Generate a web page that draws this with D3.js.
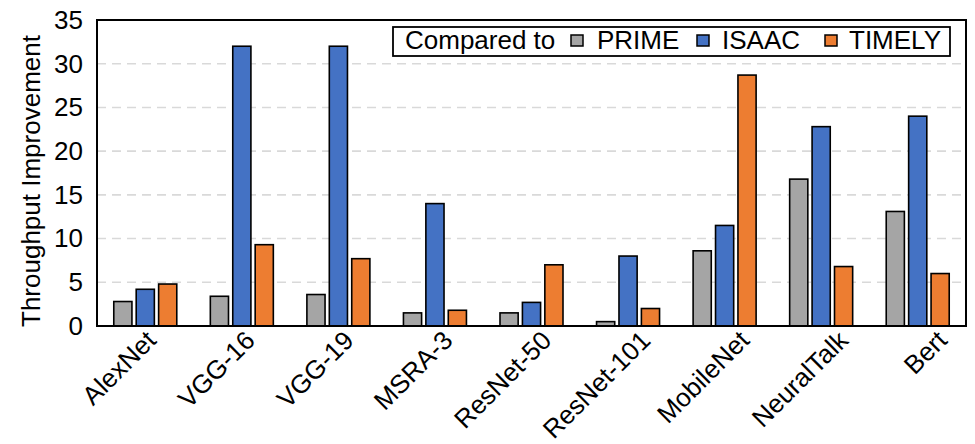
<!DOCTYPE html>
<html>
<head>
<meta charset="utf-8">
<script src="https://cdn.jsdelivr.net/npm/d3@7"></script>
<style>
  html, body { margin: 0; padding: 0; background: #fff; }
  text { font-family: "Liberation Sans", Arial, sans-serif; fill: #000; }
</style>
</head>
<body>
<svg id="chart" width="975" height="444"></svg>
<script>
// Networks on the x axis
const categories = ["AlexNet", "VGG-16", "VGG-19", "MSRA-3", "ResNet-50", "ResNet-101", "MobileNet", "NeuralTalk", "Bert"];
// Baselines being compared against
const seriesNames = ["PRIME", "ISAAC", "TIMELY"];
// Throughput improvement over each baseline
const primeValues  = [2.8, 3.4, 3.6, 1.5, 1.5, 0.5, 8.6, 16.8, 13.1];
const isaacValues  = [4.2, 32.0, 32.0, 14.0, 2.7, 8.0, 11.5, 22.8, 24.0];
const timelyValues = [4.8, 9.3, 7.7, 1.8, 7.0, 2.0, 28.7, 6.8, 6.0];
const yTicks = [0, 5, 10, 15, 20, 25, 30, 35];

const colors = { PRIME: "#A5A5A5", ISAAC: "#4472C4", TIMELY: "#ED7D31" };
const seriesValues = { PRIME: primeValues, ISAAC: isaacValues, TIMELY: timelyValues };

const FONT = '"Liberation Sans", Arial, sans-serif';
const svg = d3.select("#chart");
const margin = { left: 97, right: 9, top: 20, bottom: 118 };
const W = 975, H = 444;
const x0 = margin.left, x1 = W - margin.right;
const yTop = margin.top, yBot = H - margin.bottom;

const x = d3.scaleBand().domain(categories).range([x0, x1]).padding(0);
const xs = d3.scaleBand().domain(seriesNames).range([-31.5, 31.5]).paddingInner(0.19);
const y = d3.scaleLinear().domain([0, 35]).range([yBot, yTop]);
// Rotated category labels end slightly right of each group, spreading a bit wider than the bars
const xLabel = d3.scalePoint().domain(categories).range([157, 948]);

// Dashed horizontal gridlines
svg.append("g")
  .selectAll("line")
  .data(yTicks.filter(t => t > 0 && t < 35))
  .join("line")
  .attr("x1", x0).attr("x2", x1)
  .attr("y1", d => y(d)).attr("y2", d => y(d))
  .attr("stroke", "#d9d9d9")
  .attr("stroke-width", 1.6)
  .attr("stroke-dasharray", "9,6");

// Bars
const rows = categories.map((c, i) => ({ cat: c, vals: seriesNames.map(s => ({ s, v: seriesValues[s][i] })) }));
svg.append("g")
  .selectAll("g")
  .data(rows)
  .join("g")
  .attr("transform", d => `translate(${x(d.cat) + x.bandwidth() / 2},0)`)
  .selectAll("rect")
  .data(d => d.vals)
  .join("rect")
  .attr("x", d => xs(d.s))
  .attr("width", xs.bandwidth())
  .attr("y", d => y(d.v))
  .attr("height", d => y(0) - y(d.v))
  .attr("fill", d => colors[d.s])
  .attr("stroke", "#000")
  .attr("stroke-width", 1.6);

// Y axis
const yAxis = d3.axisLeft(y).tickValues(yTicks).tickSize(0).tickPadding(14);
const gy = svg.append("g").attr("transform", `translate(${x0},0)`).call(yAxis);
gy.select(".domain").remove();
gy.selectAll("text")
  .style("font-family", FONT)
  .style("font-size", "26px")
  .attr("fill", "#000");

// X axis with rotated labels
const xAxis = d3.axisBottom(xLabel).tickSize(0).tickPadding(0);
const gx = svg.append("g").attr("transform", `translate(0,${yBot})`).call(xAxis);
gx.select(".domain").remove();
gx.selectAll("text")
  .style("font-family", FONT)
  .style("font-size", "26px")
  .attr("fill", "#000")
  .attr("text-anchor", "end")
  .attr("dy", null)
  .attr("y", 0)
  .attr("transform", "translate(0,16) rotate(-45)");

// Plot frame
svg.append("rect")
  .attr("x", x0).attr("y", yTop)
  .attr("width", x1 - x0).attr("height", yBot - yTop)
  .attr("fill", "none")
  .attr("stroke", "#000")
  .attr("stroke-width", 2);

// Y title
svg.append("text")
  .attr("transform", `translate(40,${(yTop + yBot) / 2 + 8}) rotate(-90)`)
  .attr("text-anchor", "middle")
  .style("font-size", "26px")
  .text("Throughput Improvement");

// Legend
const leg = svg.append("g");
leg.append("rect")
  .attr("x", 393).attr("y", 27).attr("width", 557).attr("height", 29)
  .attr("fill", "#fff").attr("stroke", "#000").attr("stroke-width", 1.8);
leg.append("text").attr("x", 405).attr("y", 49).style("font-size", "26px").text("Compared to");
const legItems = [
  { s: "PRIME", mx: 571, tx: 597 },
  { s: "ISAAC", mx: 697, tx: 722 },
  { s: "TIMELY", mx: 825, tx: 849 }
];
legItems.forEach(it => {
  leg.append("rect")
    .attr("x", it.mx).attr("y", 35).attr("width", 12).attr("height", 11)
    .attr("fill", colors[it.s]).attr("stroke", "#000").attr("stroke-width", 1.5);
  leg.append("text").attr("x", it.tx).attr("y", 49).style("font-size", "26px").text(it.s);
});
</script>
</body>
</html>
